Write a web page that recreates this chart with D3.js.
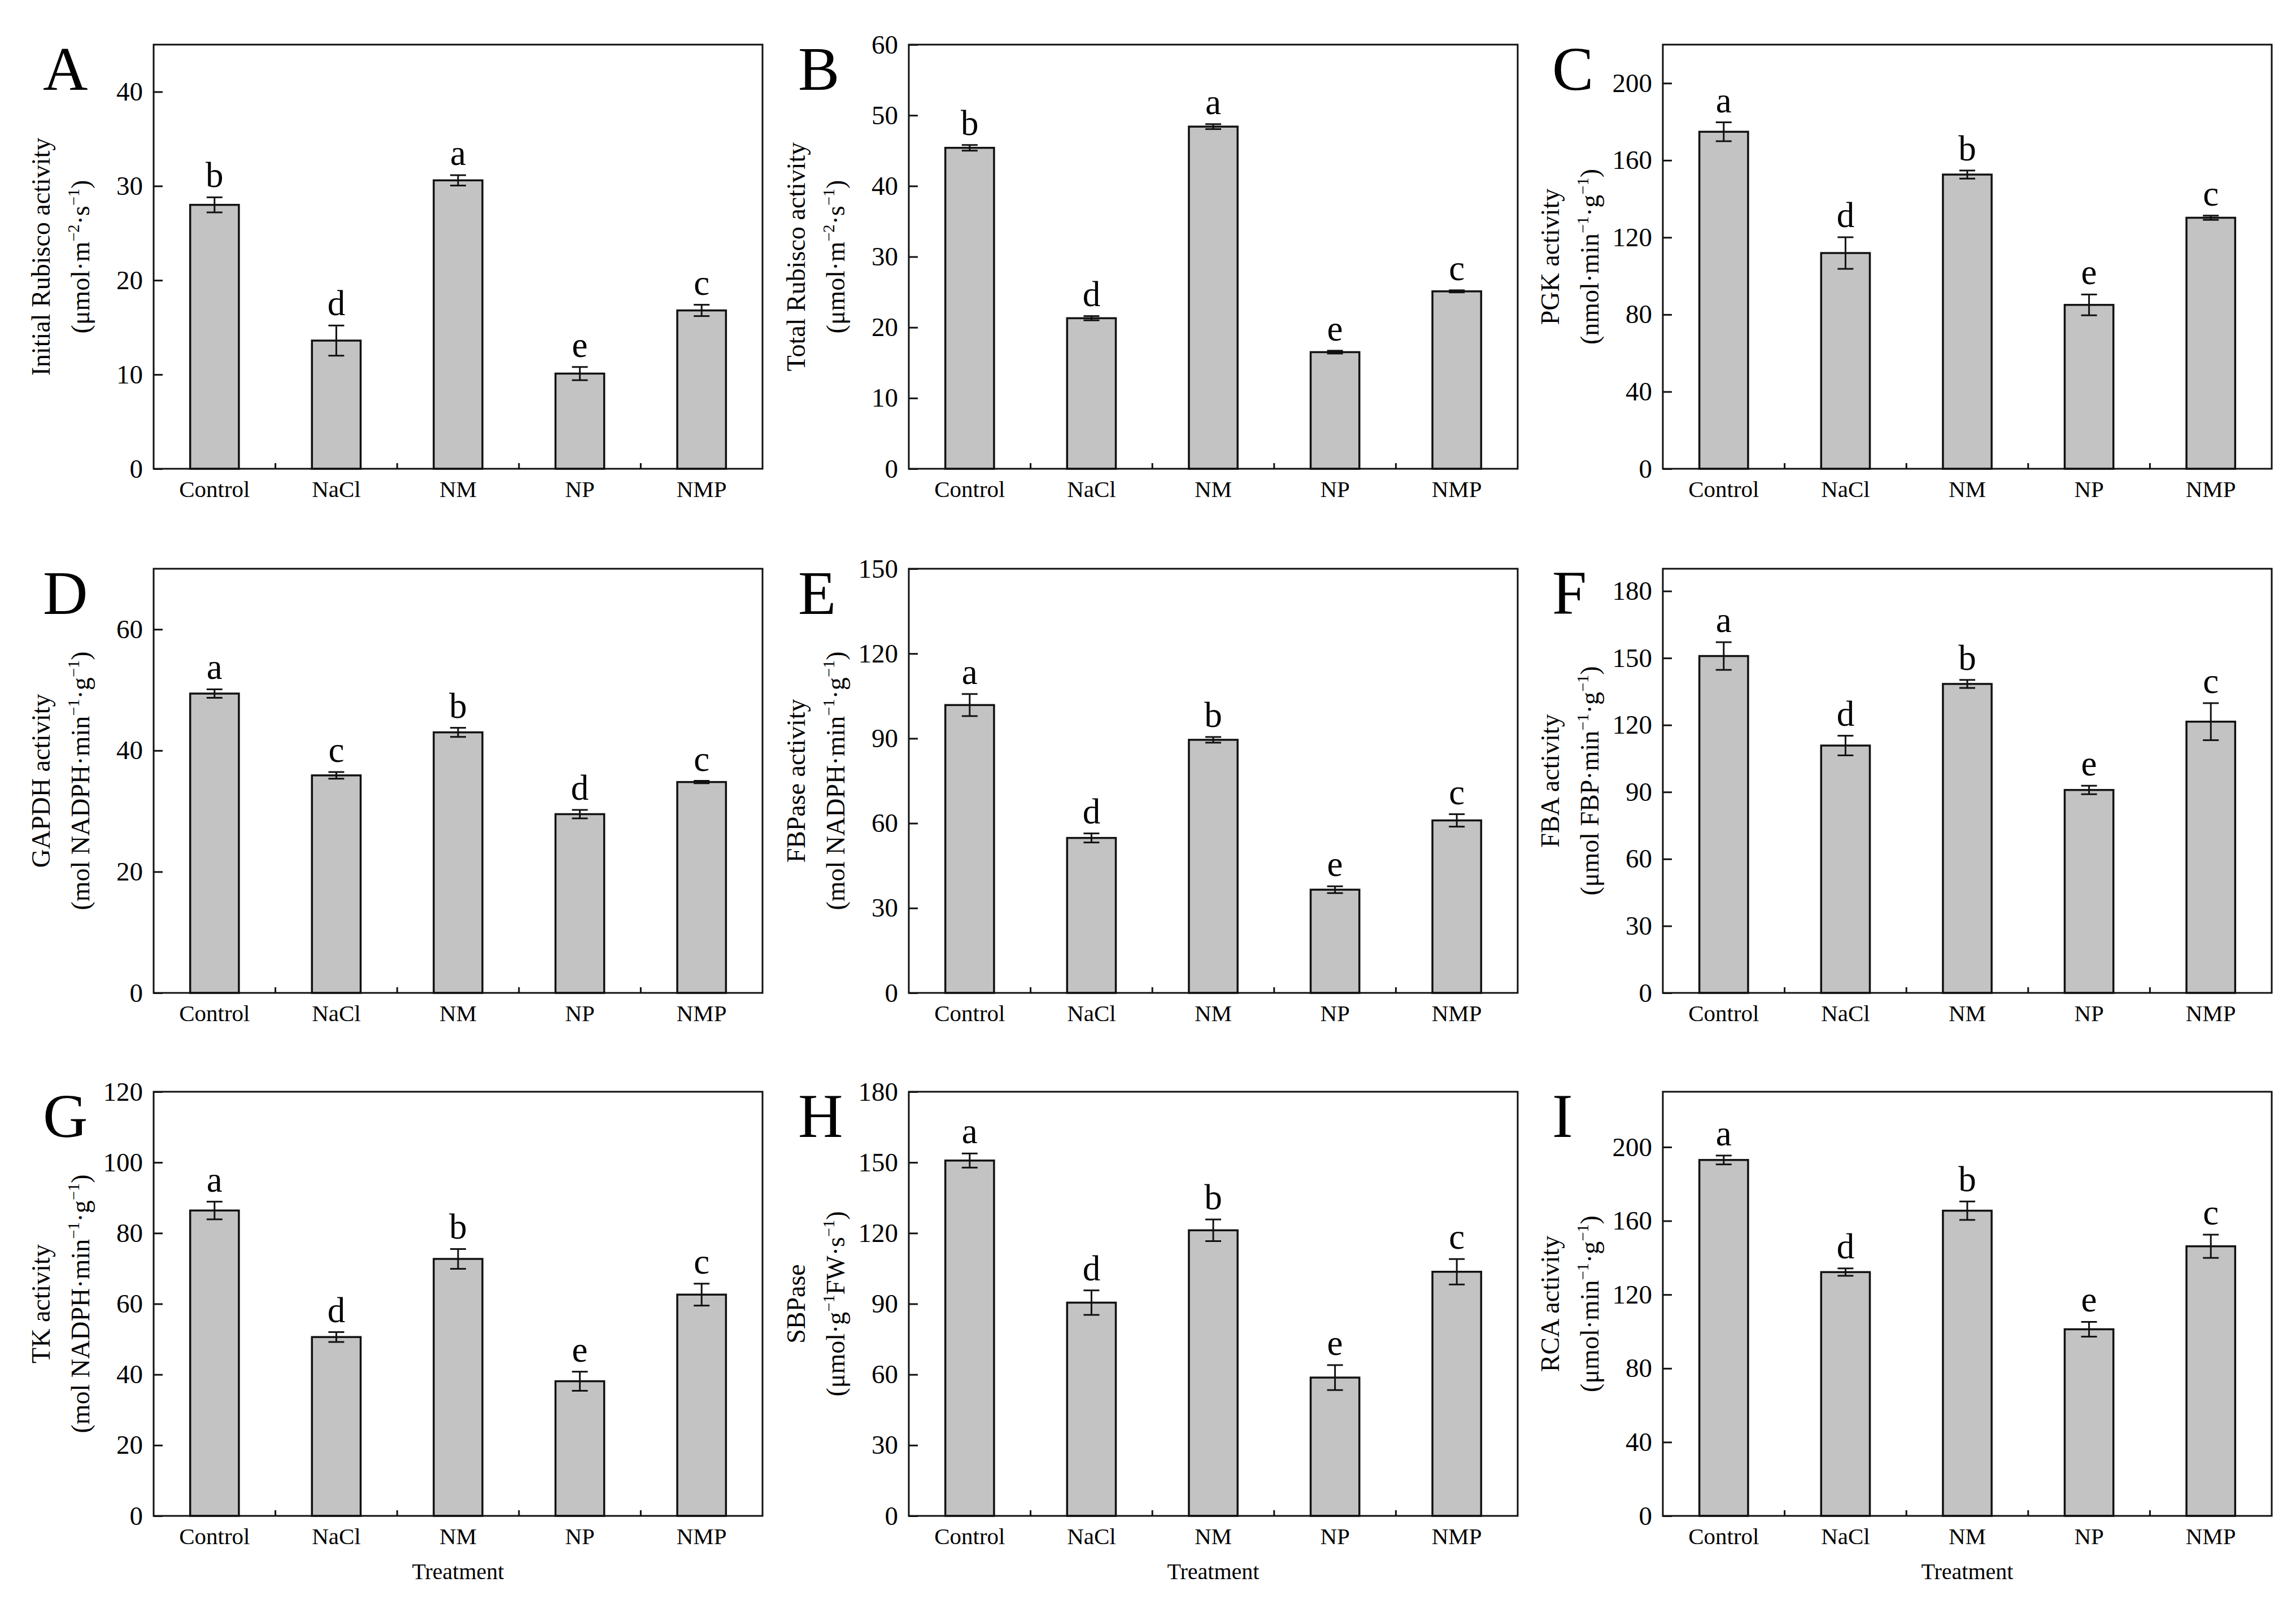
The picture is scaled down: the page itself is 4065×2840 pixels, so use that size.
<!DOCTYPE html>
<html>
<head>
<meta charset="utf-8">
<script src="https://cdn.jsdelivr.net/npm/d3@7"></script>
<style>
  body { margin: 0; background: #fff; }
  text { font-family: "Liberation Serif", "Times New Roman", serif; fill: #000; }
</style>
</head>
<body>
<div id="chart"></div>
<script>
/* CONSTANTS AND GLOBALS */
const width = 4065;
const height = 2840;

/* DATA */
const treatments = ["Control", "NaCl", "NM", "NP", "NMP"];

const initialRubisco    = [28.0, 13.6, 30.6, 10.1, 16.8];
const initialRubiscoErr = [0.8, 1.6, 0.55, 0.7, 0.6];
const initialRubiscoSig = ["b", "d", "a", "e", "c"];

const totalRubisco    = [45.4, 21.3, 48.4, 16.5, 25.1];
const totalRubiscoErr = [0.4, 0.3, 0.35, 0.2, 0.15];
const totalRubiscoSig = ["b", "d", "a", "e", "c"];

const pgk    = [174.8, 111.9, 152.6, 85.0, 130.2];
const pgkErr = [4.9, 8.2, 2.1, 5.4, 1.1];
const pgkSig = ["a", "d", "b", "e", "c"];

const gapdh    = [49.4, 35.9, 43.0, 29.5, 34.8];
const gapdhErr = [0.7, 0.55, 0.75, 0.7, 0.2];
const gapdhSig = ["a", "c", "b", "d", "c"];

const fbpase    = [101.8, 54.8, 89.5, 36.5, 61.0];
const fbpaseErr = [3.9, 1.6, 1.0, 1.2, 2.2];
const fbpaseSig = ["a", "d", "b", "e", "c"];

const fba    = [150.9, 110.8, 138.4, 90.9, 121.5];
const fbaErr = [6.2, 4.4, 1.8, 1.9, 8.3];
const fbaSig = ["a", "d", "b", "e", "c"];

const tk    = [86.4, 50.6, 72.7, 38.1, 62.6];
const tkErr = [2.5, 1.4, 2.8, 2.7, 3.1];
const tkSig = ["a", "d", "b", "e", "c"];

const sbpase    = [150.8, 90.5, 121.2, 58.7, 103.6];
const sbpaseErr = [3.0, 5.2, 4.6, 5.3, 5.4];
const sbpaseSig = ["a", "d", "b", "e", "c"];

const rca    = [193.0, 132.2, 165.5, 101.2, 146.2];
const rcaErr = [2.4, 2.0, 5.0, 4.0, 6.3];
const rcaSig = ["a", "d", "b", "e", "c"];

// axis maxima and tick steps, panel A..I
const yMax  = [45, 60, 220, 70, 150, 190, 120, 180, 230];
const yStep = [10, 10, 40, 20, 30, 30, 20, 30, 40];

const panelLetters = ["A", "B", "C", "D", "E", "F", "G", "H", "I"];
// ^{...} marks a superscript
const titleLine1 = ["Initial Rubisco activity", "Total Rubisco activity", "PGK activity",
  "GAPDH activity", "FBPase activity", "FBA activity",
  "TK activity", "SBPase", "RCA activity"];
const titleLine2 = ["(μmol·m^{−2}·s^{−1})", "(μmol·m^{−2}·s^{−1})", "(nmol·min^{−1}·g^{−1})",
  "(mol NADPH·min^{−1}·g^{−1})", "(mol NADPH·min^{−1}·g^{−1})", "(μmol FBP·min^{−1}·g^{−1})",
  "(mol NADPH·min^{−1}·g^{−1})", "(μmol·g^{−1}FW·s^{−1})", "(μmol·min^{−1}·g^{−1})"];

const values  = [initialRubisco, totalRubisco, pgk, gapdh, fbpase, fba, tk, sbpase, rca];
const errors  = [initialRubiscoErr, totalRubiscoErr, pgkErr, gapdhErr, fbpaseErr, fbaErr, tkErr, sbpaseErr, rcaErr];
const letters = [initialRubiscoSig, totalRubiscoSig, pgkSig, gapdhSig, fbpaseSig, fbaSig, tkSig, sbpaseSig, rcaSig];

/* LAYOUT */
const colLeft = [272, 1609, 2944];
const rowTop = [79, 1007, 1933];
const pw = 1078, ph = 751;

const svg = d3.select("#chart")
  .append("svg")
  .attr("width", width)
  .attr("height", height);

svg.append("rect").attr("width", width).attr("height", height).attr("fill", "#fff");

// writes "a^{b}c" as tspans with raised small text
function richText(sel, str, size) {
  const parts = str.split(/(\^\{[^}]*\})/).filter(s => s.length);
  let raised = false;
  parts.forEach(p => {
    if (p.startsWith("^{")) {
      sel.append("tspan").attr("font-size", size * 0.62).attr("dy", raised ? 0 : -size * 0.4)
        .text(p.slice(2, -1));
      raised = true;
    } else {
      sel.append("tspan").attr("font-size", size).attr("dy", raised ? size * 0.4 : 0)
        .text(p);
      raised = false;
    }
  });
}

d3.range(9).forEach(i => {
  const col = i % 3, row = Math.floor(i / 3);
  const g = svg.append("g")
    .attr("transform", `translate(${colLeft[col]},${rowTop[row]})`);

  const data = treatments.map((t, j) => ({
    t: t, v: values[i][j], e: errors[i][j], s: letters[i][j]
  }));

  /* SCALES */
  const x = d3.scaleBand()
    .domain(treatments)
    .range([0, pw])
    .paddingInner(0.6)
    .paddingOuter(0.3);

  const y = d3.scaleLinear()
    .domain([0, yMax[i]])
    .range([ph, 0]);

  const ticks = d3.range(0, yMax[i] + 1e-9, yStep[i]);

  // bars
  g.selectAll("rect.bar")
    .data(data)
    .join("rect")
    .attr("class", "bar")
    .attr("x", d => x(d.t))
    .attr("y", d => y(d.v))
    .attr("width", x.bandwidth())
    .attr("height", d => ph - y(d.v))
    .attr("fill", "#c3c3c3")
    .attr("stroke", "#111")
    .attr("stroke-width", 3.5);

  // error bars
  const cx = d => x(d.t) + x.bandwidth() / 2;
  const eb = g.selectAll("g.err")
    .data(data)
    .join("g")
    .attr("class", "err")
    .attr("stroke", "#111")
    .attr("stroke-width", 3);
  eb.append("line")
    .attr("x1", cx).attr("x2", cx)
    .attr("y1", d => y(d.v - d.e)).attr("y2", d => y(d.v + d.e));
  eb.append("line")
    .attr("x1", d => cx(d) - 14).attr("x2", d => cx(d) + 14)
    .attr("y1", d => y(d.v + d.e)).attr("y2", d => y(d.v + d.e));
  eb.append("line")
    .attr("x1", d => cx(d) - 14).attr("x2", d => cx(d) + 14)
    .attr("y1", d => y(d.v - d.e)).attr("y2", d => y(d.v - d.e));

  // significance letters
  g.selectAll("text.sig")
    .data(data)
    .join("text")
    .attr("class", "sig")
    .attr("x", cx)
    .attr("y", d => y(d.v + d.e) - 18)
    .attr("text-anchor", "middle")
    .attr("font-size", 63)
    .text(d => d.s);

  // y axis, ticks inward
  const ya = g.append("g")
    .call(d3.axisLeft(y).tickValues(ticks).tickFormat(d3.format("d"))
      .tickSizeInner(-16).tickSizeOuter(0).tickPadding(19));
  ya.select(".domain").remove();
  ya.selectAll(".tick line").attr("stroke", "#111").attr("stroke-width", 3);
  ya.selectAll(".tick text").attr("font-size", 47).attr("font-family", null);

  // x axis labels
  const xa = g.append("g")
    .attr("transform", `translate(0,${ph})`)
    .call(d3.axisBottom(x).tickSize(0).tickPadding(21));
  xa.select(".domain").remove();
  xa.selectAll(".tick text").attr("font-size", 41).attr("font-family", null);

  // small inward ticks between categories
  g.selectAll("line.sep")
    .data(treatments.slice(1))
    .join("line")
    .attr("class", "sep")
    .attr("x1", t => x(t) - x.step() * x.paddingInner() / 2)
    .attr("x2", t => x(t) - x.step() * x.paddingInner() / 2)
    .attr("y1", ph).attr("y2", ph - 10)
    .attr("stroke", "#111").attr("stroke-width", 3);

  // frame
  g.append("rect")
    .attr("width", pw).attr("height", ph)
    .attr("fill", "none")
    .attr("stroke", "#111")
    .attr("stroke-width", 3);

  // y title (two lines)
  g.append("text")
    .attr("transform", `translate(-184,${ph / 2}) rotate(-90)`)
    .attr("text-anchor", "middle")
    .attr("font-size", 46)
    .text(titleLine1[i]);
  const t2 = g.append("text")
    .attr("transform", `translate(-114,${ph / 2}) rotate(-90)`)
    .attr("text-anchor", "middle");
  richText(t2, titleLine2[i], 46);

  // panel letter
  g.append("text")
    .attr("x", -196)
    .attr("y", 80)
    .attr("font-size", 110)
    .text(panelLetters[i]);

  if (row === 2) {
    g.append("text")
      .attr("x", pw / 2)
      .attr("y", ph + 112)
      .attr("text-anchor", "middle")
      .attr("font-size", 40)
      .text("Treatment");
  }
});
</script>
</body>
</html>
